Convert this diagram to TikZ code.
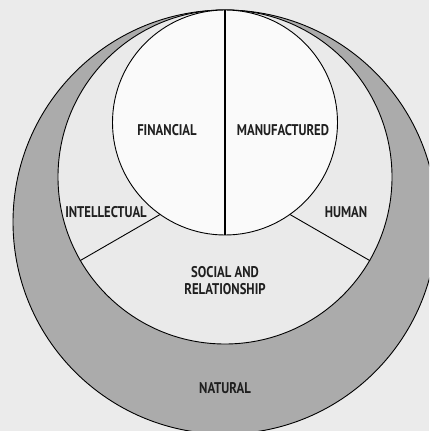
\documentclass[tikz,border=0pt]{standalone}
\usepackage{fontspec}
\usepackage{graphicx}
\newfontfamily\labfont{PT Sans}
\newcommand\lbl[1]{\scalebox{0.82}[1]{#1}}
\definecolor{bgc}{HTML}{EBEBEB}
\definecolor{natc}{HTML}{ABABAB}
\definecolor{midc}{HTML}{EAEAEA}
\definecolor{innc}{HTML}{FAFAFA}
\tikzset{
  ring/.style={circle, draw=black, line width=0.9pt, inner sep=0pt},
  lab/.style={font=\labfont\bfseries\fontsize{15.5}{17}\selectfont, text=black!88, align=center, inner sep=0pt},
  divider/.style={draw=black, line width=0.9pt}
}
\begin{document}
\begin{tikzpicture}[x=1pt,y=1pt]
\useasboundingbox (0,0) rectangle (429,431);
\clip (0,0) rectangle (429,431);
\fill[bgc] (0,0) rectangle (429,431);
\node[ring, fill=natc, minimum size=424pt] (outer) at (225,209) {};
\node[ring, fill=midc, minimum size=334pt] (mid) at (225,254) {};
\draw[divider] (mid.center) -- (mid.-150);
\draw[divider] (mid.center) -- (mid.-30);
\node[ring, fill=innc, minimum size=225pt] (inner) at (225,308.5) {};
\draw[line width=1.2pt] (inner.north) -- (inner.south);
\node[lab] (fin) at (167,300.5) {\lbl{FINANCIAL}};
\node[lab] (man) at (283,300.5) {\lbl{MANUFACTURED}};
\node[lab] (int) at (106,219) {\lbl{INTELLECTUAL}};
\node[lab] (hum) at (346,219) {\lbl{HUMAN}};
\node[lab] (soc) at (225,150.5) {\lbl{SOCIAL AND}\\\lbl{RELATIONSHIP}};
\node[lab] (nat) at (225,43) {\lbl{NATURAL}};
\end{tikzpicture}
\end{document}
